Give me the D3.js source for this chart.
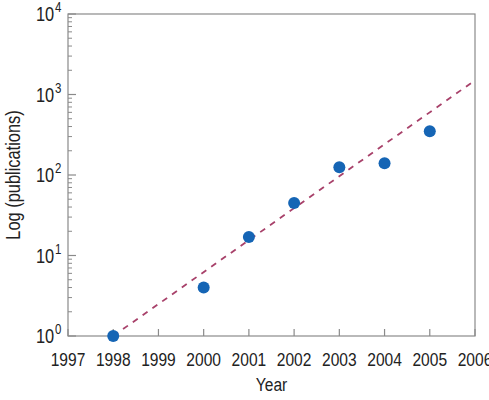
<!DOCTYPE html>
<html>
<head>
<meta charset="utf-8">
<script src="https://cdn.jsdelivr.net/npm/d3@7"></script>
<style>
  body { margin: 0; background: #fff; }
  text { font-family: "Liberation Sans", Arial, sans-serif; fill: #222; }
</style>
</head>
<body>
<svg id="chart" width="489" height="400"></svg>
<script>
const years = [1998, 2000, 2001, 2002, 2003, 2004, 2005];
const publications = [1, 4, 17, 45, 125, 140, 350];
const trendYears = [1998, 2006];
const trendValues = [1, 1500];
const xTicks = [1997, 1998, 1999, 2000, 2001, 2002, 2003, 2004, 2005, 2006];
const yExponents = [0, 1, 2, 3, 4];

const margin = {top: 14, right: 14, bottom: 64, left: 68};
const width = 489 - margin.left - margin.right,
    height = 400 - margin.top - margin.bottom;
const narrow = 0.82; // condensed look of the original font

const svg = d3.select('#chart')
    .append('g')
    .attr('transform', `translate(${margin.left}, ${margin.top})`);

const xscale = d3.scaleLinear().domain([1997, 2006]).range([0, width]);
const yscale = d3.scaleLog().domain([1, 10000]).range([height, 0]);

const axisColor = '#8a8a8a';

// frame
svg.append('rect')
    .attr('width', width).attr('height', height)
    .attr('fill', 'none').attr('stroke', axisColor).attr('stroke-width', 1.2);

// x ticks (inward)
svg.append('g').selectAll('line')
    .data(xTicks)
    .enter().append('line')
    .attr('x1', d => xscale(d)).attr('x2', d => xscale(d))
    .attr('y1', height).attr('y2', height - 7)
    .attr('stroke', axisColor).attr('stroke-width', 1.2);

svg.append('g').selectAll('text')
    .data(xTicks)
    .enter().append('text')
    .attr('transform', d => `translate(${xscale(d)},${height + 30}) scale(${narrow},1)`)
    .attr('text-anchor', 'middle')
    .style('font-size', '19px')
    .text(d => d);

// y ticks: major + minor log ticks
const minor = [];
yExponents.slice(0, -1).forEach(e => {
  for (let m = 2; m <= 9; m++) minor.push(m * Math.pow(10, e));
});
svg.append('g').selectAll('line')
    .data(minor)
    .enter().append('line')
    .attr('x1', 0).attr('x2', 4)
    .attr('y1', d => yscale(d)).attr('y2', d => yscale(d))
    .attr('stroke', axisColor).attr('stroke-width', 1);
svg.append('g').selectAll('line')
    .data(yExponents)
    .enter().append('line')
    .attr('x1', 0).attr('x2', 8)
    .attr('y1', d => yscale(Math.pow(10, d))).attr('y2', d => yscale(Math.pow(10, d)))
    .attr('stroke', axisColor).attr('stroke-width', 1.2);

const ylab = svg.append('g').selectAll('text')
    .data(yExponents)
    .enter().append('text')
    .attr('transform', d => `translate(-32,${yscale(Math.pow(10, d)) + 7}) scale(${narrow},1)`)
    .style('font-size', '20px');
ylab.append('tspan').text('10');
ylab.append('tspan')
    .attr('dy', -9)
    .attr('dx', 1)
    .style('font-size', '14px')
    .text(d => d);

// trend line
const line = d3.line()
    .x((d, i) => xscale(trendYears[i]))
    .y(d => yscale(d));
svg.append('path')
    .datum(trendValues)
    .attr('d', line)
    .attr('fill', 'none')
    .attr('stroke', '#a8416a')
    .attr('stroke-width', 1.8)
    .attr('stroke-dasharray', '6,6');

// points
svg.append('g').selectAll('circle')
    .data(years)
    .enter().append('circle')
    .attr('cx', d => xscale(d))
    .attr('cy', (d, i) => yscale(publications[i]))
    .attr('r', 6)
    .attr('fill', '#1565b5');

// axis titles
svg.append('text')
    .attr('transform', `translate(${width / 2},${height + 55}) scale(${narrow},1)`)
    .attr('text-anchor', 'middle')
    .style('font-size', '19px')
    .text('Year');

svg.append('text')
    .attr('transform', `translate(-48,${height / 2}) rotate(-90) scale(${narrow},1)`)
    .attr('text-anchor', 'middle')
    .style('font-size', '20px')
    .text('Log (publications)');
</script>
</body>
</html>
